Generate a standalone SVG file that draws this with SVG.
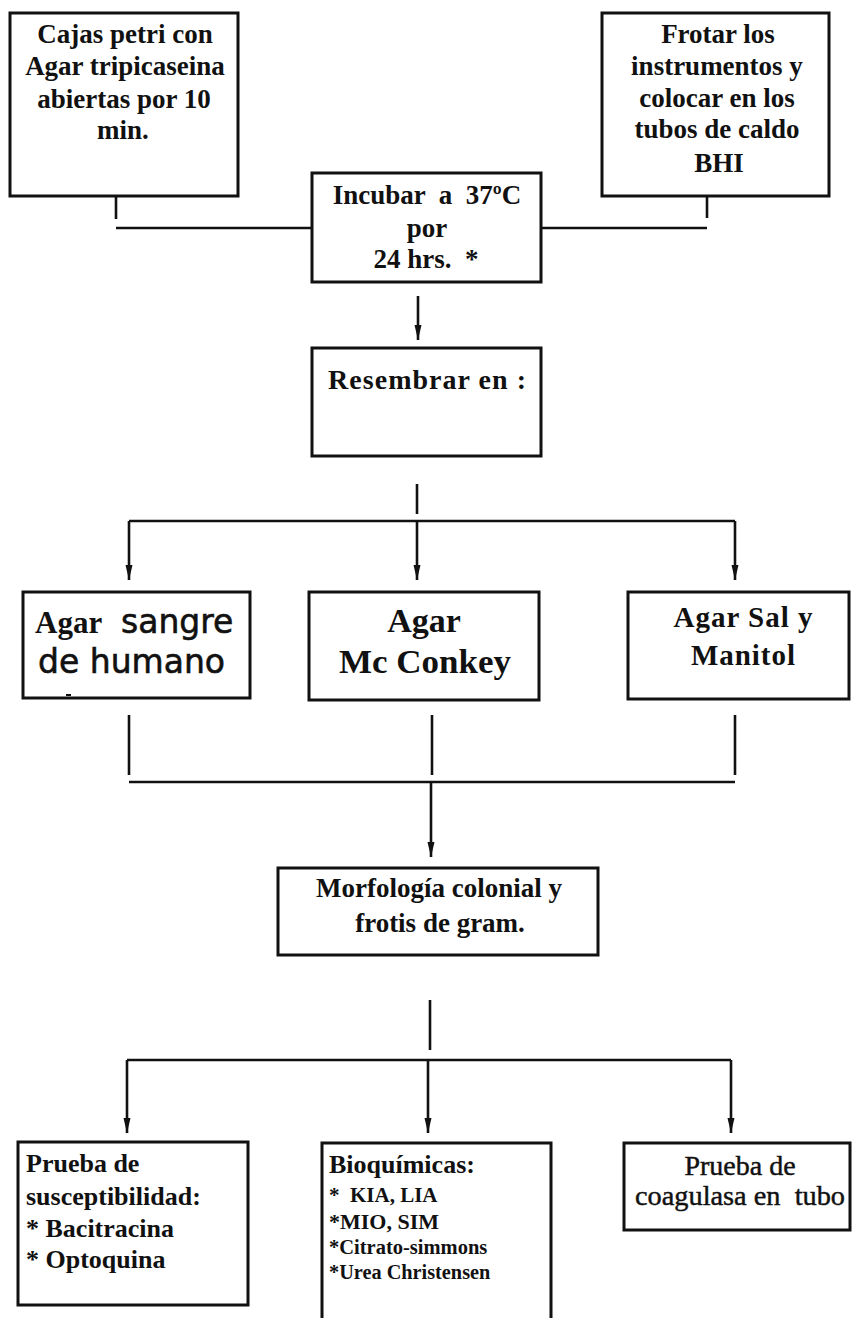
<svg xmlns="http://www.w3.org/2000/svg" width="853" height="1318" viewBox="0 0 853 1318">
<style>
.box{fill:#fff;stroke:#111;stroke-width:3}
.ln{fill:none;stroke:#111;stroke-width:2.6}
.t{font-family:"Liberation Serif","Times New Roman",serif;font-weight:bold;fill:#111}
.c{text-anchor:middle}
.g{font-family:"DejaVu Sans",sans-serif;font-weight:normal;fill:#111;stroke:#111;stroke-width:0.6}
.n{font-weight:normal;stroke:#111;stroke-width:0.45}
</style>
<defs>
<marker id="ah" markerUnits="userSpaceOnUse" markerWidth="16" markerHeight="10" refX="15" refY="4" orient="auto">
<path d="M0,0.5 L15,4 L0,7.5 z" fill="#111"/>
</marker>
</defs>
<rect width="853" height="1318" fill="#fff"/>
<g id="connectors">
<path class="ln" d="M116,175 V219"/>
<path class="ln" d="M116,228 H312"/>
<path class="ln" d="M707,175 V218"/>
<path class="ln" d="M541,228 H707"/>
<path class="ln" d="M418,296 V340" marker-end="url(#ah)"/>
<path class="ln" d="M417,484 V514"/>
<path class="ln" d="M129,521 H735"/>
<path class="ln" d="M129,521 V580" marker-end="url(#ah)"/>
<path class="ln" d="M417,521 V580" marker-end="url(#ah)"/>
<path class="ln" d="M735,521 V580" marker-end="url(#ah)"/>
<path class="ln" d="M129,715 V775"/>
<path class="ln" d="M432,715 V775"/>
<path class="ln" d="M735,715 V775"/>
<path class="ln" d="M129,782 H735"/>
<path class="ln" d="M431,782 V857" marker-end="url(#ah)"/>
<path class="ln" d="M430,1000 V1050"/>
<path class="ln" d="M127,1060 H731"/>
<path class="ln" d="M127,1060 V1133" marker-end="url(#ah)"/>
<path class="ln" d="M428,1060 V1133" marker-end="url(#ah)"/>
<path class="ln" d="M731,1060 V1133" marker-end="url(#ah)"/>
</g>
<g id="cajas">
<rect class="box" x="10" y="13" width="228" height="183"/>
<g class="t c" font-size="27">
<text x="125" y="43">Cajas petri con</text>
<text x="125" y="75">Agar tripicaseina</text>
<text x="124" y="108">abiertas por 10</text>
<text x="123" y="139">min.</text>
</g>
</g>
<g id="frotar">
<rect class="box" x="602" y="13" width="227" height="183"/>
<g class="t c" font-size="27">
<text x="718" y="43">Frotar los</text>
<text x="717" y="75">instrumentos y</text>
<text x="717" y="107">colocar en los</text>
<text x="717" y="138">tubos de caldo</text>
<text x="719" y="172">BHI</text>
</g>
</g>
<g id="incubar">
<rect class="box" x="312" y="173" width="229" height="109"/>
<g class="t c" font-size="27">
<text x="427" y="204" xml:space="preserve">Incubar  a  37ºC</text>
<text x="427" y="237">por</text>
<text x="426" y="268" xml:space="preserve">24 hrs.  *</text>
</g>
</g>
<g id="resembrar">
<rect class="box" x="312" y="348" width="229" height="108"/>
<text class="t c" font-size="28" x="427" y="389" textLength="198" lengthAdjust="spacing">Resembrar en :</text>
</g>
<g id="agar-sangre">
<rect class="box" x="23" y="592" width="227" height="106"/>
<text class="t" font-size="31" x="35" y="633">Agar</text>
<text class="g" font-size="33" x="121" y="633">sangre</text>
<text class="g" font-size="33" x="38" y="673">de humano</text>
<path d="M66,695 H71" stroke="#111" stroke-width="2"/>
</g>
<g id="agar-mcconkey">
<rect class="box" x="309" y="592" width="230" height="108"/>
<g class="t c" font-size="34">
<text x="424" y="632">Agar</text>
<text x="425" y="673" textLength="172" lengthAdjust="spacingAndGlyphs">Mc Conkey</text>
</g>
</g>
<g id="agar-sal">
<rect class="box" x="628" y="592" width="221" height="107"/>
<g class="t c" font-size="29">
<text x="743" y="627" textLength="139" lengthAdjust="spacing">Agar Sal y</text>
<text x="743" y="665" textLength="104" lengthAdjust="spacing">Manitol</text>
</g>
</g>
<g id="morfologia">
<rect class="box" x="278" y="868" width="320" height="87"/>
<g class="t c" font-size="27">
<text x="439" y="897">Morfología colonial y</text>
<text x="440" y="932">frotis de gram.</text>
</g>
</g>
<g id="susceptibilidad">
<rect class="box" x="18" y="1142" width="230" height="163"/>
<g class="t" font-size="26">
<text x="26" y="1172">Prueba de</text>
<text x="26" y="1205">susceptibilidad:</text>
<text x="26" y="1237">* Bacitracina</text>
<text x="26" y="1268">* Optoquina</text>
</g>
</g>
<g id="bioquimicas">
<rect class="box" x="322" y="1143" width="229" height="200"/>
<g class="t">
<text x="329" y="1173" font-size="26">Bioquímicas:</text>
<text x="329" y="1202" font-size="21" xml:space="preserve">*  KIA, LIA</text>
<text x="329" y="1229" font-size="22">*MIO, SIM</text>
<text x="329" y="1254" font-size="20.5">*Citrato-simmons</text>
<text x="329" y="1279" font-size="20.3">*Urea Christensen</text>
</g>
</g>
<g id="coagulasa">
<rect class="box" x="624" y="1143" width="226" height="87"/>
<g class="t c n" font-size="28">
<text x="740" y="1175">Prueba de</text>
<text x="740" y="1205" textLength="210" lengthAdjust="spacingAndGlyphs" xml:space="preserve">coagulasa en  tubo</text>
</g>
</g>
</svg>
